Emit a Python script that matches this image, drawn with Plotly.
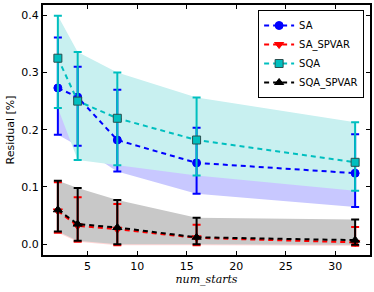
import plotly.graph_objects as go

# ---- data ----
num_starts = [2, 4, 8, 16, 32]

sa_mean = [0.273, 0.257, 0.182, 0.142, 0.124]
sa_upper = [0.361, 0.310, 0.270, 0.2035, 0.192]
sa_lower = [0.191, 0.172, 0.127, 0.088, 0.065]

sa_spvar_mean = [0.058, 0.032, 0.026, 0.011, 0.003]
sa_spvar_upper = [0.108, 0.082, 0.070, 0.034, 0.030]
sa_spvar_lower = [0.020, 0.004, -0.002, -0.002, -0.003]

sqa_mean = [0.325, 0.250, 0.220, 0.182, 0.143]
sqa_upper = [0.399, 0.336, 0.300, 0.2565, 0.213]
sqa_lower = [0.238, 0.147, 0.138, 0.120, 0.0935]

sqa_spvar_mean = [0.060, 0.035, 0.029, 0.012, 0.007]
sqa_spvar_upper = [0.111, 0.098, 0.077, 0.046, 0.043]
sqa_spvar_lower = [0.022, 0.006, 0.000, 0.000, -0.001]

series = [
    ("SA", sa_mean, sa_upper, sa_lower, "#0000ff", "circle", "#c8c8ff", "#0000ff"),
    ("SA_SPVAR", sa_spvar_mean, sa_spvar_upper, sa_spvar_lower, "#ff0000", "triangle-down", "#ffd6d6", "#ff0000"),
    ("SQA", sqa_mean, sqa_upper, sqa_lower, "#00bfbf", "square", "#c8f0f0", "#2a4f4f"),
    ("SQA_SPVAR", sqa_spvar_mean, sqa_spvar_upper, sqa_spvar_lower, "#000000", "triangle-up", "#c8c8c8", "#000000"),
]

FONT = "DejaVu Sans"
fig = go.Figure()

# shaded bands (drawn first)
for name, m, up, lo, col, sym, fillcol, edge in series:
    fig.add_trace(go.Scatter(
        x=num_starts + num_starts[::-1],
        y=up + lo[::-1],
        fill="toself", fillcolor=fillcol,
        line=dict(width=0), mode="lines",
        hoverinfo="skip", showlegend=False,
    ))

# lines, markers, error bars
for name, m, up, lo, col, sym, fillcol, edge in series:
    fig.add_trace(go.Scatter(
        x=num_starts, y=m, name=name,
        mode="lines+markers",
        line=dict(color=col, width=2, dash="5px,4px"),
        marker=dict(symbol=sym, size=8, color=col,
                    line=dict(color=edge, width=1)),
        error_y=dict(type="data", symmetric=False,
                     array=[u - v for u, v in zip(up, m)],
                     arrayminus=[v - l for v, l in zip(m, lo)],
                     color=col, thickness=2, width=4),
    ))

axis_common = dict(
    showline=True, linecolor="black", linewidth=2, mirror="ticks",
    ticks="inside", ticklen=4, tickwidth=1, tickcolor="black",
    showgrid=False, zeroline=False, automargin=False,
    tickfont=dict(family=FONT, size=11, color="black"),
)

fig.update_layout(
    width=374, height=292,
    margin=dict(l=43, r=4, t=5, b=37, autoexpand=False),
    paper_bgcolor="white", plot_bgcolor="white",
    font=dict(family=FONT, size=11, color="black"),
    xaxis=dict(range=[0.5, 33.5], tickvals=[5, 10, 15, 20, 25, 30],
               title=dict(text="<i>num_starts</i>", standoff=2,
                          font=dict(family="DejaVu Serif", size=11)),
               **axis_common),
    yaxis=dict(range=[-0.019, 0.418], tickvals=[0.0, 0.1, 0.2, 0.3, 0.4],
               tickformat=".1f",
               title=dict(text="Residual [%]", standoff=4,
                          font=dict(family=FONT, size=11)),
               **axis_common),
    legend=dict(x=0.982, y=0.98, xanchor="right", yanchor="top",
                bgcolor="white", bordercolor="black", borderwidth=1,
                font=dict(family=FONT, size=10), tracegroupgap=0,
                itemwidth=30),
    showlegend=True,
)

fig.write_html("out.html",
               config={"displayModeBar": False},
               post_script="document.body.style.margin='0';document.body.style.overflow='hidden';")
